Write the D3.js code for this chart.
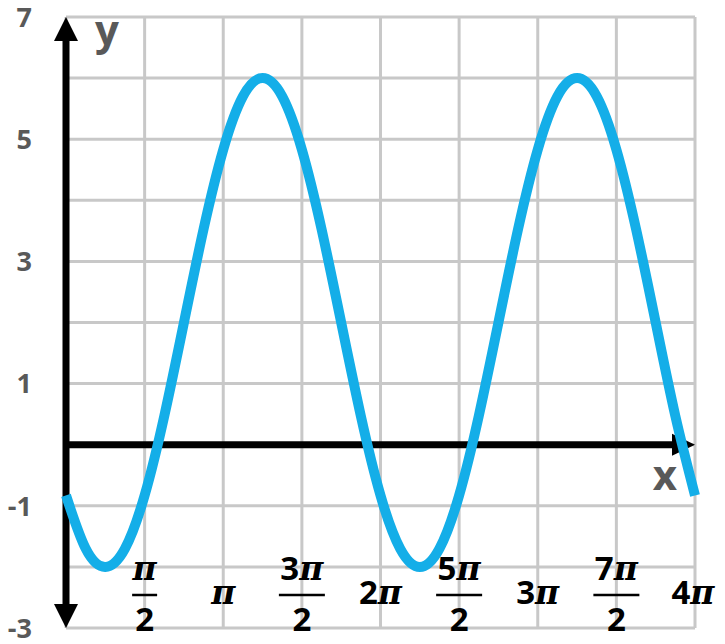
<!DOCTYPE html>
<html><head><meta charset="utf-8">
<script src="https://cdn.jsdelivr.net/npm/d3@7"></script>
<style>body{margin:0;background:#fff;}svg{display:block;}</style>
</head><body>
<svg id="c" width="725" height="644"></svg>
<script>
// ---- data ----
const PI = Math.PI;
const xStepsPerPi = 8;                  // samples every π/8
const curveY = [-0.83,-1.7,-2,-1.7,-0.83,0.47,2,3.53,4.83,5.7,6,5.7,4.83,3.53,2,0.47,-0.83,
                -1.7,-2,-1.7,-0.83,0.47,2,3.53,4.83,5.7,6,5.7,4.83,3.53,2,0.47,-0.83];
const yGrid = [-3,-2,-1,0,1,2,3,4,5,6,7];
const yTickLabels = [7,5,3,1,-1,-3];
const xGridHalfPi = [0,1,2,3,4,5,6,7,8];
const xTickLabels = [
  {k:1, num:"", den:"2", frac:true},
  {k:2, num:"", frac:false},
  {k:3, num:"3", den:"2", frac:true},
  {k:4, num:"2", frac:false},
  {k:5, num:"5", den:"2", frac:true},
  {k:6, num:"3", frac:false},
  {k:7, num:"7", den:"2", frac:true},
  {k:8, num:"4", frac:false}
];

const svg = d3.select("#c");
const x = d3.scaleLinear().domain([0, 4*PI]).range([66, 695]);
const y = d3.scaleLinear().domain([-3, 7]).range([628, 17]);

const gridC = "#c8c8c8";
// grid
svg.append("g").selectAll("line").data(yGrid).join("line")
  .attr("x1", x(0)).attr("x2", x(4*PI))
  .attr("y1", d => y(d)).attr("y2", d => y(d))
  .attr("stroke", gridC).attr("stroke-width", 3);
svg.append("g").selectAll("line").data(xGridHalfPi).join("line")
  .attr("x1", d => x(d*PI/2)).attr("x2", d => x(d*PI/2))
  .attr("y1", y(7)).attr("y2", y(-3))
  .attr("stroke", gridC).attr("stroke-width", 3);

// axes
const ax = svg.append("g");
ax.append("line").attr("x1", x(0)).attr("x2", x(0)).attr("y1", y(7)+20).attr("y2", y(-3)-20)
  .attr("stroke", "#000").attr("stroke-width", 7);
ax.append("line").attr("x1", x(0)).attr("x2", x(4*PI)-20).attr("y1", y(0)).attr("y2", y(0))
  .attr("stroke", "#000").attr("stroke-width", 7);
const X0 = x(0), Y7 = y(7), Ym3 = y(-3), Y0 = y(0), X4 = x(4*PI);
ax.append("path").attr("d", `M${X0},${Y7} L${X0-12},${Y7+24} L${X0+12},${Y7+24} Z`).attr("fill","#000");
ax.append("path").attr("d", `M${X0},${Ym3} L${X0-12},${Ym3-24} L${X0+12},${Ym3-24} Z`).attr("fill","#000");
ax.append("path").attr("d", `M${X4},${Y0} L${X4-23},${Y0-11} L${X4-23},${Y0+11} Z`).attr("fill","#000");

// y tick labels
svg.append("g").selectAll("text").data(yTickLabels).join("text")
  .attr("x", 32).attr("y", d => y(d)).attr("dy", "0.36em")
  .attr("text-anchor", "end")
  .attr("font-family", "'Open Sans', sans-serif").attr("font-weight", 700)
  .attr("font-size", 27).attr("fill", "#595959")
  .text(d => d);

// axis names
svg.append("text").attr("x", 107).attr("y", 45).attr("text-anchor","middle")
  .attr("font-family","'Open Sans', sans-serif").attr("font-weight",700).attr("font-size",42)
  .attr("fill","#595959").text("y");
svg.append("text").attr("x", 665).attr("y", 490).attr("text-anchor","middle")
  .attr("font-family","'Open Sans', sans-serif").attr("font-weight",700).attr("font-size",42)
  .attr("fill","#595959").text("x");

// x tick labels
const lab = svg.append("g");
const sansF = "'Open Sans', sans-serif", piF = "'DejaVu Serif', serif";
xTickLabels.forEach(t => {
  const cx = x(t.k*PI/2);
  if (t.frac) {
    const tx = lab.append("text").attr("x", cx).attr("y", 580).attr("text-anchor","middle")
      .attr("font-size", 33).attr("font-weight", 700).attr("fill","#000");
    if (t.num) tx.append("tspan").attr("font-family", sansF).text(t.num);
    tx.append("tspan").attr("font-family", piF).attr("font-style","italic").text("π");
    const w = t.num ? 46 : 25;
    lab.append("line").attr("x1", cx-w/2).attr("x2", cx+w/2).attr("y1", 595).attr("y2", 595)
      .attr("stroke","#000").attr("stroke-width", 2.5);
    lab.append("text").attr("x", cx).attr("y", 631).attr("text-anchor","middle")
      .attr("font-family", sansF).attr("font-size", 33).attr("font-weight", 700).attr("fill","#000")
      .text(t.den);
  } else {
    const tx = lab.append("text").attr("x", cx + (t.k===8 ? -2 : 0)).attr("y", 604).attr("text-anchor","middle")
      .attr("font-size", 33).attr("font-weight", 700).attr("fill","#000");
    if (t.num) tx.append("tspan").attr("font-family", sansF).text(t.num);
    tx.append("tspan").attr("font-family", piF).attr("font-style","italic").text("π");
  }
});

// curve
const pts = curveY.map((v,i) => [i*PI/xStepsPerPi, v]);
const line = d3.line().x(d => x(d[0])).y(d => y(d[1])).curve(d3.curveNatural);
svg.append("path").datum(pts).attr("d", line)
  .attr("fill","none").attr("stroke","#14aee8").attr("stroke-width", 10)
  .attr("stroke-linejoin","round");
</script>
</body></html>
